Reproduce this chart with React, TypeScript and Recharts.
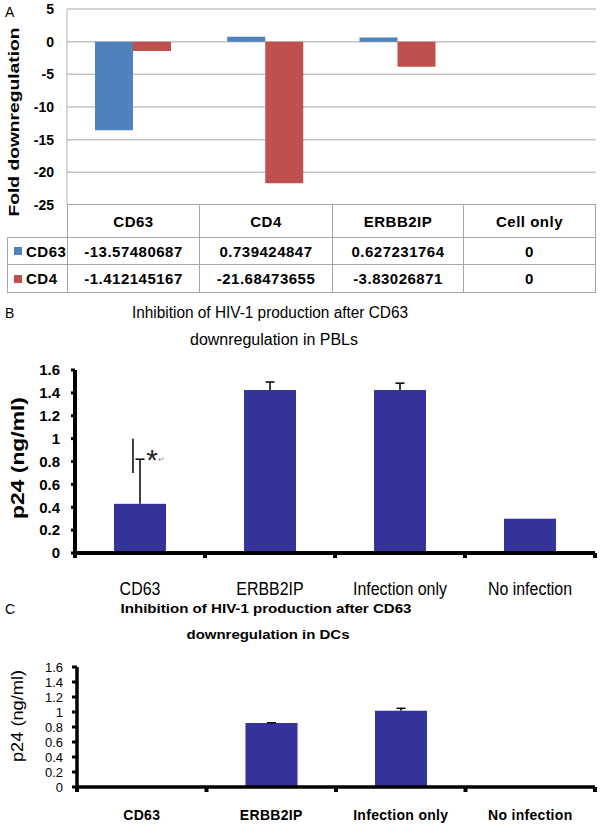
import React from 'react';
import { BarChart, Bar, XAxis, YAxis, CartesianGrid } from 'recharts';

// ---------- Data ----------
const aCategories = ['CD63', 'CD4', 'ERBB2IP', 'Cell only'];
const aSeriesNames = ['CD63', 'CD4'];
const aCD63 = [-13.57480687, 0.739424847, 0.627231764, 0];
const aCD4 = [-1.412145167, -21.68473655, -3.83026871, 0];
const aTicks = [5, 0, -5, -10, -15, -20, -25];

const bCategories = ['CD63', 'ERBB2IP', 'Infection only', 'No infection'];
const bValues = [0.43, 1.425, 1.425, 0.3];
const bErrors = [0.39, 0.07, 0.06, 0];
const bSig = ['*', '', '', ''];

const cCategories = ['CD63', 'ERBB2IP', 'Infection only', 'No infection'];
const cValues = [0, 0.853, 1.017, 0];
const cErrors = [0, 0.004, 0.032, 0];

const pTicks = [0, 0.2, 0.4, 0.6, 0.8, 1, 1.2, 1.4, 1.6];

const titleLine1 = 'Inhibition of HIV-1 production after CD63';
const bTitleLine2 = 'downregulation in PBLs';
const cTitleLine2 = 'downregulation in DCs';
const aYLabel = 'Fold downregulation';
const pYLabel = 'p24 (ng/ml)';

// ---------- Styles ----------
const FONT = "'Liberation Sans', Arial, Helvetica, sans-serif";
const BLUE = '#4f81bd';
const RED = '#c0504d';
const NAVY = '#333399';

const aData = aCategories.map((c, i) => ({ cat: c, cd63: aCD63[i], cd4: aCD4[i] }));
const bData = bCategories.map((c, i) => ({ cat: c, v: bValues[i], err: bErrors[i], sig: bSig[i] }));
const cData = cCategories.map((c, i) => ({ cat: c, v: cValues[i], err: cErrors[i], sig: '' }));

function ErrBarShape(props: any) {
  const { x, y, width, height, payload, fill } = props;
  if (!height || height <= 0 || !payload || !payload.v) return null;
  const unit = height / payload.v;
  const base = y + height;
  const cx = x + width / 2;
  const errPx = (payload.err || 0) * unit;
  return (
    <g>
      <rect x={x} y={y} width={width} height={height} fill={fill} />
      {errPx > 0 && (
        <g stroke="#000" strokeWidth={1.5}>
          <line x1={cx} y1={y} x2={cx} y2={y - errPx} />
          <line x1={cx - 4.5} y1={y - errPx} x2={cx + 4.5} y2={y - errPx} />
        </g>
      )}
      {payload.sig ? (
        <g>
          <line x1={cx - 7} y1={base - 1.0 * unit} x2={cx - 7} y2={base - 0.7 * unit} stroke="#111" strokeWidth={1.6} />
          <text x={cx + 12} y={base - 0.725 * unit} textAnchor="middle" fontSize={30} fontFamily={FONT} fill="#222">
            {payload.sig}
          </text>
          <text x={cx + 21} y={base - 0.8 * unit} textAnchor="middle" fontSize={8} fontFamily={FONT} fill="#888">
            ↵
          </text>
        </g>
      ) : null}
    </g>
  );
}

function makeCatTick(halfBand: number, labelDy: number, style: any, sx: number, markW: number, markH: number) {
  return (props: any) => {
    const { x, y, payload } = props;
    return (
      <g>
        <text transform={`translate(${x},${y + labelDy}) scale(${sx},1)`} x={0} y={0} textAnchor="middle" fill="#000" {...style}>
          {payload.value}
        </text>
        <rect x={x + halfBand - markW / 2} y={y} width={markW} height={markH} fill="#000" />
        {payload.index === 0 ? (
          <rect x={x - halfBand - markW / 2} y={y} width={markW} height={markH} fill="#000" />
        ) : null}
      </g>
    );
  };
}

// layout constants
const W = 600;
const A_H = 215;
const B_TOP = 360, B_H = 240, B_YW = 75, B_MR = 5;
const C_TOP = 657, C_H = 168, C_YW = 77, C_MR = 5;
const bHalf = (W - B_YW - B_MR) / bCategories.length / 2;
const cHalf = (W - C_YW - C_MR) / cCategories.length / 2;

const colEdges = [7, 67, 199, 332, 463, 595];
const rowEdges = [204, 237, 264, 292];
const GRIDC = '#a6a6a6';

function TableA() {
  const cells: any[] = [];
  const cellStyle = (l: number, t: number, w: number, h: number): any => ({
    position: 'absolute', left: l, top: t, width: w, height: h, boxSizing: 'border-box',
    border: `1px solid ${GRIDC}`, display: 'flex', alignItems: 'center', justifyContent: 'center',
    fontFamily: FONT, fontWeight: 'bold', fontSize: 15, letterSpacing: 0.5, color: '#000', background: '#fff',
  });
  aCategories.forEach((c, i) => {
    cells.push(
      <div key={'h' + i} style={cellStyle(colEdges[i + 1], rowEdges[0], colEdges[i + 2] - colEdges[i + 1] + 1, rowEdges[1] - rowEdges[0] + 1)}>{c}</div>
    );
  });
  const series = [aCD63, aCD4];
  const colors = [BLUE, RED];
  series.forEach((vals, r) => {
    const t = rowEdges[r + 1];
    const h = rowEdges[r + 2] - t + 1;
    cells.push(
      <div key={'l' + r} style={{ ...cellStyle(colEdges[0], t, colEdges[1] - colEdges[0] + 1, h), justifyContent: 'flex-start', paddingLeft: 6 }}>
        <span style={{ display: 'inline-block', width: 8, height: 8, background: colors[r], marginRight: 4 }} />
        {aSeriesNames[r]}
      </div>
    );
    vals.forEach((v, i) => {
      cells.push(
        <div key={'c' + r + '-' + i} style={cellStyle(colEdges[i + 1], t, colEdges[i + 2] - colEdges[i + 1] + 1, h)}>{String(v)}</div>
      );
    });
  });
  return <>{cells}</>;
}

export default function App() {
  return (
    <div style={{ position: 'absolute', left: 0, top: 0, width: W, height: 825, background: '#fff', overflow: 'hidden' }}>
      {/* Panel A */}
      <div style={{ position: 'absolute', left: 0, top: 0 }}>
        <BarChart width={W} height={A_H} data={aData} margin={{ top: 9, right: 4, left: 0, bottom: 10 }} barGap={0}>
          <CartesianGrid vertical={false} stroke="#c4c4c4" strokeWidth={1.5} />
          <XAxis dataKey="cat" hide />
          <YAxis
            width={67}
            domain={[-25, 5]}
            ticks={aTicks}
            interval={0}
            tickLine={false}
            axisLine={{ stroke: '#b0b0b0', strokeWidth: 1 }}
            tickSize={6}
            tickMargin={7}
            tick={{ fill: '#000', fontSize: 14, fontWeight: 'bold', fontFamily: FONT }}
          />
          <Bar dataKey="cd63" fill={BLUE} barSize={38} isAnimationActive={false} />
          <Bar dataKey="cd4" fill={RED} barSize={38} isAnimationActive={false} />
        </BarChart>
      </div>
      <TableA />

      {/* Panel B */}
      <div style={{ position: 'absolute', left: 0, top: B_TOP }}>
        <BarChart width={W} height={B_H} data={bData} margin={{ top: 10, right: B_MR, left: 0, bottom: 0 }}>
          <XAxis
            dataKey="cat"
            height={47}
            interval={0}
            tickLine={false}
            tickSize={0}
            tickMargin={0}
            axisLine={{ stroke: '#000', strokeWidth: 4 }}
            tick={makeCatTick(bHalf, 42, { fontSize: 19, fontFamily: FONT }, 0.84, 4, 5)}
          />
          <YAxis
            width={B_YW}
            domain={[0, 1.6]}
            ticks={pTicks}
            interval={0}
            tickSize={4}
            tickMargin={11}
            tickLine={{ stroke: '#000', strokeWidth: 3 }}
            axisLine={{ stroke: '#000', strokeWidth: 4 }}
            tick={{ fill: '#000', fontSize: 15, fontWeight: 'bold', fontFamily: FONT }}
          />
          <Bar dataKey="v" fill={NAVY} barSize={52} shape={ErrBarShape} isAnimationActive={false} />
        </BarChart>
      </div>

      {/* Panel C */}
      <div style={{ position: 'absolute', left: 0, top: C_TOP }}>
        <BarChart width={W} height={C_H} data={cData} margin={{ top: 10, right: C_MR, left: 0, bottom: 0 }}>
          <XAxis
            dataKey="cat"
            height={38}
            interval={0}
            tickLine={false}
            tickSize={0}
            tickMargin={0}
            axisLine={{ stroke: '#000', strokeWidth: 3.5 }}
            tick={makeCatTick(cHalf, 33, { fontSize: 14, fontWeight: 'bold', fontFamily: FONT, letterSpacing: 0.3 }, 1, 4, 5)}
          />
          <YAxis
            width={C_YW}
            domain={[0, 1.6]}
            ticks={pTicks}
            interval={0}
            tickSize={5}
            tickMargin={9}
            tickLine={{ stroke: '#000', strokeWidth: 3 }}
            axisLine={{ stroke: '#000', strokeWidth: 3.5 }}
            tick={{ fill: '#000', fontSize: 13, fontFamily: FONT }}
          />
          <Bar dataKey="v" fill={NAVY} barSize={52} shape={ErrBarShape} isAnimationActive={false} />
        </BarChart>
      </div>

      {/* Free text overlay */}
      <svg width={W} height={825} style={{ position: 'absolute', left: 0, top: 0, pointerEvents: 'none' }}>
        <text x={5} y={17} fontSize={14} fontFamily={FONT} fill="#000">A</text>
        <text x={5} y={318} fontSize={14} fontFamily={FONT} fill="#000">B</text>
        <text x={5} y={614} fontSize={14} fontFamily={FONT} fill="#000">C</text>

        <text transform="translate(19,122) rotate(-90)" textAnchor="middle" fontSize={15} fontWeight="bold" fontFamily={FONT} fill="#000" textLength={189} lengthAdjust="spacingAndGlyphs">{aYLabel}</text>

        <text x={270} y={318} textAnchor="middle" fontSize={16} fontFamily={FONT} fill="#000" textLength={276} lengthAdjust="spacingAndGlyphs">{titleLine1}</text>
        <text x={274} y={345} textAnchor="middle" fontSize={16} fontFamily={FONT} fill="#000" textLength={168} lengthAdjust="spacingAndGlyphs">{bTitleLine2}</text>
        <text transform="translate(24,458) rotate(-90)" textAnchor="middle" fontSize={18} fontWeight="bold" fontFamily={FONT} fill="#000" textLength={122} lengthAdjust="spacingAndGlyphs">{pYLabel}</text>

        <text x={266} y={613} textAnchor="middle" fontSize={13} fontWeight="bold" fontFamily={FONT} fill="#000" textLength={291} lengthAdjust="spacingAndGlyphs">{titleLine1}</text>
        <text x={268} y={639} textAnchor="middle" fontSize={13} fontWeight="bold" fontFamily={FONT} fill="#000" textLength={163} lengthAdjust="spacingAndGlyphs">{cTitleLine2}</text>
        <text transform="translate(23,716) rotate(-90)" textAnchor="middle" fontSize={16} fontFamily={FONT} fill="#000" textLength={92} lengthAdjust="spacingAndGlyphs">{pYLabel}</text>
      </svg>
    </div>
  );
}
